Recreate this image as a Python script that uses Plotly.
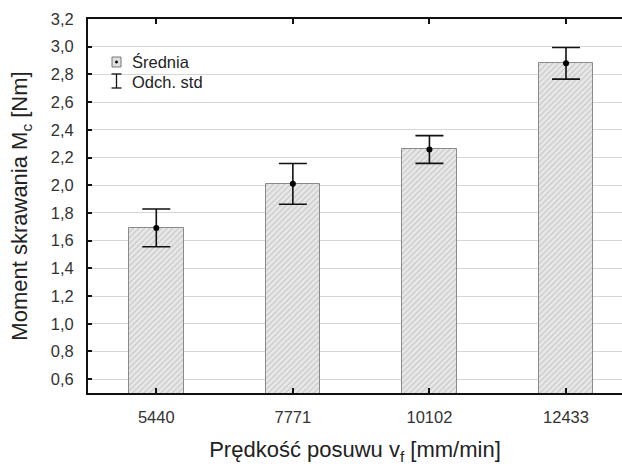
import plotly.graph_objects as go

categories = ["5440", "7771", "10102", "12433"]
means = [1.692, 2.010, 2.258, 2.880]
std_dev = [0.136, 0.147, 0.100, 0.114]
y_ticks = [0.6, 0.8, 1.0, 1.2, 1.4, 1.6, 1.8, 2.0, 2.2, 2.4, 2.6, 2.8, 3.0, 3.2]

FONT = "Liberation Sans, Arial, sans-serif"
xpos = list(range(len(categories)))

fig = go.Figure()
fig.add_trace(go.Bar(
    x=xpos, y=means, base=0, width=0.4,
    marker=dict(color="#e4e4e4",
                line=dict(color="#8a8a8a", width=1),
                pattern=dict(shape="/", fgcolor="#9a9a9a", bgcolor="#e8e8e8",
                             size=4, solidity=0.25)),
    showlegend=False, hoverinfo="skip",
))
fig.add_trace(go.Scatter(
    x=xpos, y=means, mode="markers",
    marker=dict(color="black", size=6),
    error_y=dict(type="data", array=std_dev, visible=True,
                 color="#111", thickness=1.6, width=14),
    showlegend=False, hoverinfo="skip",
))

# manual legend (paper coordinates)
L, T, W, H = 88, 19, 534, 374
def px(x):
    return (x - L) / W
def py(y):
    return (T + H - y) / H

shapes = [
    dict(type="rect", xref="paper", yref="paper",
         x0=px(112), x1=px(121), y0=py(67), y1=py(57),
         fillcolor="#e0e0e0", line=dict(color="#777", width=1)),
    dict(type="circle", xref="paper", yref="paper",
         x0=px(115.3), x1=px(117.7), y0=py(63.2), y1=py(60.8),
         fillcolor="black", line=dict(color="black", width=0.5)),
    dict(type="line", xref="paper", yref="paper",
         x0=px(116.5), x1=px(116.5), y0=py(88), y1=py(74),
         line=dict(color="#111", width=1.3)),
    dict(type="line", xref="paper", yref="paper",
         x0=px(111.5), x1=px(121.5), y0=py(74), y1=py(74),
         line=dict(color="#111", width=1.3)),
    dict(type="line", xref="paper", yref="paper",
         x0=px(111.5), x1=px(121.5), y0=py(88), y1=py(88),
         line=dict(color="#111", width=1.3)),
]
annotations = [
    dict(text="Średnia", xref="paper", yref="paper",
         x=px(130), y=py(62), xanchor="left", yanchor="middle",
         showarrow=False, font=dict(family=FONT, size=16.5, color="#222")),
    dict(text="Odch. std", xref="paper", yref="paper",
         x=px(130), y=py(81.5), xanchor="left", yanchor="middle",
         showarrow=False, font=dict(family=FONT, size=16.5, color="#222")),
]

fig.update_layout(
    width=622, height=466,
    margin=dict(l=L, r=0, t=T, b=466 - T - H),
    paper_bgcolor="white", plot_bgcolor="white",
    separators=", ",
    font=dict(family=FONT, size=16, color="#222"),
    shapes=shapes, annotations=annotations,
    bargap=0,
)
fig.update_xaxes(
    range=[-0.5, 3.41],
    tickvals=xpos, ticktext=categories,
    showline=True, linecolor="#111", linewidth=2, mirror="ticks",
    ticks="inside", ticklen=5, tickcolor="#111", tickwidth=1.5,
    showgrid=False, zeroline=False,
    tickfont=dict(family=FONT, size=16.5, color="#333"),
    ticklabelstandoff=8,
    title=dict(text="Prędkość posuwu v<sub>f</sub> [mm/min]",
               font=dict(family=FONT, size=22, color="#222"), standoff=17),
)
fig.update_yaxes(
    range=[0.5, 3.2],
    tickvals=y_ticks, tickformat=".1f",
    showline=True, linecolor="#111", linewidth=2, mirror=False,
    ticks="inside", ticklen=4, tickcolor="#111", tickwidth=1.5,
    showgrid=True, gridcolor="#d6d6d6", gridwidth=1.3, zeroline=False,
    tickfont=dict(family=FONT, size=16.5, color="#333"),
    ticklabelstandoff=9,
    title=dict(text="Moment skrawania M<sub>c</sub> [Nm]",
               font=dict(family=FONT, size=22, color="#222"), standoff=17),
)

fig.write_html(
    "out.html",
    config={"displayModeBar": False},
    post_script="document.body.style.margin='0';document.body.style.overflow='hidden';",
)
